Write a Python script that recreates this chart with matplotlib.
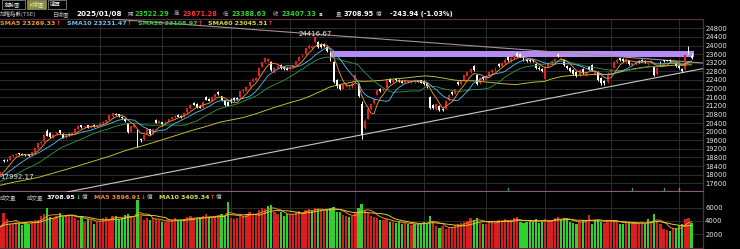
import numpy as np
import pandas as pd
import matplotlib
matplotlib.use("Agg")
import matplotlib.pyplot as plt

plt.rcParams['font.family'] = ['DejaVu Sans', 'Noto Sans CJK TC']

# closes / volumes before the first visible bar, only used to warm up the averages
warmup_closes = [16700, 16750, 16850, 16950, 17150, 17240, 17300, 17280, 17350, 17380, 17420, 17400, 17350, 17370, 17430, 17433,
                 17380, 17360, 17390, 17280, 17270, 17340, 17420, 17480, 17560, 17620, 17590, 17620, 17520, 17580, 17650, 17700, 17820, 17900, 17930,
                 17850, 17650, 17590, 17550, 17480, 17520, 17600, 17620, 17520, 17400, 17320, 17250, 17350, 17600, 17700, 17800, 17850, 17780, 17820, 17900, 17880, 17890,
                 17950, 18020]
warmup_volumes = [3000, 3100, 2900, 3200, 3300, 3100, 3000, 3400, 3200]

# daily bars, TAIEX (億 for volume)
opens = [18000, 18700, 18700, 18680, 18850, 18900, 18990, 18980, 18950, 18940, 18900,
         19040, 19230, 19450, 19540, 20050, 19950, 19720, 19880, 20060, 19900, 19740, 19900, 19860, 19950, 20120, 20300, 20220, 20300, 20180, 20310, 20250,
         20300, 20380, 20440, 20550, 20740, 20820, 20800, 20700, 20600, 20380, 20000, 20200, 20050, 19640, 19640, 19900, 20100, 19900, 20550, 20420,
         20440, 20340, 20460, 20580, 20680, 20760, 20720, 20680, 20900, 21080, 21320, 21300, 21200, 21120, 21620, 21500, 21440, 21620, 21860, 21640, 21450, 21360,
         21480, 21540, 21560, 21600, 21880, 21900, 22100, 22330, 22420, 22600, 23000, 23250, 23300, 23250, 22800, 22950, 23080, 23020, 22960,
         22900, 23000, 23100, 23300, 23500, 23600, 23900, 23880, 24150, 24150, 24050, 24060, 23950, 23650, 23250, 22400, 22150, 22000, 22150, 22100, 22150,
         22400, 22200, 21300, 20150, 20600, 21050, 21320, 21700, 22000, 21950, 22050, 22450, 22300, 22400, 22420, 22350, 22280, 22300, 22280, 22300, 22360, 22400,
         22350, 22250, 21600, 21250, 21050, 21200, 21050, 21050, 21450, 21850, 21750, 22300, 22200, 22350, 22600, 22750, 23050, 22650, 22250, 22550,
         22420, 22600, 22760, 22860, 23150, 23050, 23200, 23450, 23300, 23400, 23650, 23600, 23450, 23380, 23350, 23320, 23150, 22950, 22900,
         22450, 23000, 23200, 23300, 23550, 23350, 23350, 23050, 22950, 22850, 22750, 22650, 22900, 22650, 23000, 23100, 22700, 22750, 22500, 22350, 22300,
         22750, 22950, 23250, 23400, 23380, 23250, 23300, 23100, 23150, 23300, 23350, 23300, 23150, 23200, 23000, 22700, 23250, 23300, 23320, 23350, 23250, 23200,
         23050, 22900, 22900, 23900, 23522.29]
highs = [18160, 18720, 18740, 18880, 18940, 18990, 19010, 19000, 18980, 18980, 19060,
         19250, 19480, 19560, 19900, 20100, 19990, 19900, 19990, 20090, 19930, 19850, 19930, 19960, 20150, 20300, 20330, 20280, 20320, 20300, 20340, 20360,
         20420, 20480, 20560, 20780, 20880, 20860, 20830, 20740, 20620, 20420, 20280, 20330, 20100, 19720, 19880, 20150, 20130, 20160, 20600, 20520,
         20460, 20480, 20600, 20700, 20760, 20800, 20780, 20900, 21100, 21300, 21360, 21330, 21250, 21400, 21660, 21560, 21640, 21760, 21900, 21660, 21480, 21400,
         21560, 21600, 21600, 21900, 21960, 22100, 22350, 22480, 22540, 22990, 23250, 23480, 23420, 23300, 23000, 23080, 23120, 23060, 22990,
         23020, 23100, 23300, 23500, 23600, 23900, 24050, 24020, 24416.67, 24200, 24100, 24100, 23980, 23700, 23300, 22450, 22200, 22200, 22250, 22220, 22300,
         22660, 22250, 21400, 20600, 21080, 21350, 21560, 21980, 22050, 22050, 22400, 22500, 22450, 22450, 22450, 22380, 22420, 22400, 22380, 22380, 22400, 22420,
         22380, 22280, 21650, 21300, 21350, 21250, 21100, 21450, 21750, 21900, 22000, 22350, 22400, 22650, 22800, 22950, 23080, 22680, 22550, 22600,
         22650, 22800, 22900, 22980, 23200, 23250, 23400, 23500, 23450, 23560, 23700, 23650, 23500, 23420, 23400, 23380, 23200, 23050, 22950,
         23050, 23250, 23350, 23400, 23650, 23450, 23380, 23100, 23000, 22900, 22800, 22900, 22950, 22800, 23050, 23150, 22850, 22800, 22550, 22400, 22750,
         22900, 23300, 23400, 23420, 23400, 23400, 23330, 23200, 23250, 23330, 23380, 23320, 23250, 23320, 23050, 23000, 23300, 23330, 23350, 23380, 23380, 23250,
         23100, 22950, 23600, 23960, 23671.28]
lows = [17992.17, 18600, 18620, 18660, 18820, 18860, 18900, 18900, 18880, 18860, 18880,
        19020, 19200, 19380, 19520, 19780, 19720, 19700, 19850, 19900, 19700, 19700, 19820, 19840, 19940, 20100, 20180, 20190, 20150, 20160, 20220, 20230,
        20260, 20340, 20420, 20530, 20700, 20760, 20700, 20600, 20440, 19950, 19980, 20150, 19300, 19500, 19620, 19880, 19850, 19880, 20380, 20380,
        20300, 20320, 20440, 20560, 20650, 20660, 20620, 20660, 20880, 21060, 21220, 21120, 21080, 21100, 21460, 21400, 21420, 21600, 21700, 21420, 21200, 21180,
        21320, 21420, 21460, 21580, 21800, 21880, 22080, 22300, 22380, 22580, 22980, 23200, 23220, 22820, 22740, 22900, 22920, 22880, 22840,
        22860, 22950, 23080, 23280, 23450, 23580, 23850, 23860, 24120, 23900, 23900, 23940, 23700, 23300, 22250, 22050, 21950, 21980, 22080, 22000, 22050,
        22380, 21600, 19662, 20100, 20580, 21000, 21300, 21680, 21850, 21900, 22030, 22250, 22280, 22350, 22300, 22250, 22260, 22250, 22250, 22280, 22300, 22250,
        22150, 22050, 21040, 21050, 21000, 20950, 20950, 21030, 21420, 21700, 21730, 22150, 22150, 22330, 22580, 22720, 22800, 22150, 22200, 22400,
        22400, 22580, 22700, 22800, 23000, 23000, 23150, 23300, 23250, 23380, 23480, 23450, 23300, 23250, 23250, 23230, 22900, 22850, 22750,
        22400, 22980, 23150, 23250, 23450, 23300, 23050, 22900, 22750, 22650, 22550, 22600, 22700, 22600, 22850, 22800, 22650, 22350, 22180, 22150, 22280,
        22700, 22950, 23200, 23300, 23250, 23200, 23100, 23050, 23100, 23200, 23250, 23180, 23100, 23150, 22600, 22650, 23150, 23250, 23280, 23250, 23200, 23000,
        22900, 22750, 22880, 23620, 23388.63]
closes = [18120, 18640, 18660, 18860, 18900, 18960, 18940, 18920, 18900, 18890, 19040,
          19220, 19450, 19520, 19860, 19810, 19750, 19880, 19960, 19930, 19720, 19830, 19850, 19940, 20120, 20280, 20220, 20250, 20180, 20280, 20240, 20300,
          20390, 20460, 20540, 20760, 20850, 20790, 20720, 20620, 20480, 20000, 20250, 20300, 19520, 19600, 19850, 20120, 19880, 20140, 20420, 20490,
          20340, 20460, 20580, 20680, 20740, 20700, 20680, 20880, 21080, 21260, 21260, 21150, 21120, 21380, 21480, 21440, 21620, 21740, 21740, 21460, 21240, 21200,
          21360, 21460, 21500, 21880, 21920, 22060, 22320, 22440, 22500, 22960, 23220, 23400, 23380, 22870, 22960, 23040, 22960, 22900, 22880,
          22980, 23080, 23270, 23480, 23560, 23880, 24000, 23980, 24390, 23920, 23950, 23980, 23760, 23350, 22300, 22100, 22000, 22150, 22220, 22180, 22200,
          22640, 21640, 19830, 20500, 21040, 21300, 21520, 21950, 21900, 22000, 22380, 22300, 22420, 22400, 22330, 22280, 22400, 22350, 22360, 22350, 22320, 22270,
          22200, 22100, 21090, 21100, 21300, 21000, 21000, 21420, 21700, 21750, 21980, 22200, 22350, 22620, 22760, 22920, 22850, 22220, 22500, 22450,
          22600, 22760, 22860, 22950, 23050, 23200, 23350, 23350, 23400, 23500, 23500, 23480, 23350, 23300, 23280, 23260, 22950, 22900, 22800,
          23000, 23200, 23300, 23380, 23500, 23420, 23100, 22950, 22800, 22700, 22600, 22850, 22750, 22750, 22900, 22850, 22800, 22400, 22250, 22260, 22700,
          22850, 23250, 23350, 23330, 23300, 23380, 23150, 23180, 23220, 23250, 23300, 23220, 23200, 23280, 22650, 22950, 23200, 23280, 23300, 23290, 23350, 23035,
          22950, 22800, 23550, 23651, 23407.33]
volumes = [3200, 5200, 4300, 3600, 3500, 3900, 3700, 3400, 3800, 3600, 3900,
           4100, 4200, 4700, 5000, 5900, 4600, 4500, 4700, 5200, 4600, 4700, 4900, 4800, 4400, 4200, 4800, 3900, 4300, 4100, 3600, 3900,
           4000, 4400, 4600, 4200, 4800, 4700, 4300, 4400, 4900, 5100, 4600, 4500, 7200, 4800, 4200, 4500, 4100, 4400, 4300, 4100,
           3800, 3900, 4000, 4100, 4400, 4200, 4000, 4300, 4600, 4800, 4400, 4300, 4500, 4700, 5000, 4600, 4400, 4700, 4900, 5100, 4800, 6900,
           4500, 4300, 4400, 4900, 4800, 5000, 5300, 5000, 4900, 5600, 5900, 5800, 6200, 6400, 5400, 5000, 5300, 4800, 5000,
           4900, 5100, 5300, 5500, 5200, 5700, 5800, 5600, 6000, 5800, 5700, 5500, 5800, 6000, 6100, 5400, 5300, 4900, 4700, 4600, 4800,
           5200, 5900, 6500, 5600, 5200, 4700, 4600, 4500, 4200, 4100, 4300, 3900, 3800, 3700, 3900, 3600, 3700, 3500, 3400, 3600, 3500, 3700,
           3900, 3600, 4700, 3800, 3300, 3000, 3200, 2800, 2900, 3100, 3400, 3500, 3700, 3900, 4000, 4400, 4100, 4500, 3700, 3600,
           3600, 3800, 3900, 3700, 4100, 4200, 4300, 4000, 3900, 4400, 4600, 3900, 3700, 3800, 4100, 3900, 4300, 3700, 4000,
           4300, 4000, 4200, 4400, 4600, 4100, 4500, 4300, 3800, 3700, 3600, 3900, 4200, 4000, 4900, 3600, 4100, 4300, 3900, 3700, 4100,
           3800, 4100, 3900, 3600, 3500, 3700, 3800, 3600, 3500, 3700, 3900, 3600, 4300, 3800, 5000, 4000, 3500, 2800, 2600, 2500, 2900, 3000,
           3300, 3600, 4300, 4500, 3708.95]

month_starts = [32, 52, 74, 93, 114, 136, 156, 175, 196, 218]
price_ticks = list(range(17600, 24801, 400))
vol_ticks = [2000, 4000, 6000]
zone_low, zone_high, zone_from = 23460, 23730, 106
trend_down = [(60, 24972), (224, 23207)]
trend_up = [(30, 17437), (222, 22826)]
event_marks = [163, 203, 213, 218]

quote = ['2025/01/08', '23522.29', '23671.28', '23388.63', '23407.33', '3708.95', '-243.94 (-1.03%)']
sma_text = ['SMA5 23269.33', 'SMA10 23231.47', 'SMA20 23108.97', 'SMA60 23045.51']
vol_text = ['3708.95', 'MA5 3896.91', 'MA10 3405.34']

assert len(opens) == len(highs) == len(lows) == len(closes) == len(volumes)

RED = '#e3201b'
GREEN = '#2fd02f'
GRAY = '#bdbdbd'
W, H = 740, 249

fig = plt.figure(figsize=(7.4, 2.49), dpi=100, facecolor='black')
ax = fig.add_axes([0, 1 - 192 / H, 703 / W, (192 - 19) / H])
axv = fig.add_axes([0, 1 - 247.6 / H, 703 / W, (247.6 - 192) / H], sharex=ax)

n = len(closes)
idx = np.arange(n)
o, h, l, c = (np.array(a, dtype=float) for a in (opens, highs, lows, closes))
col = np.where(c > o, RED, '#ffffff')

# highlighted band sits behind the bars
ax.fill_between([zone_from, n - 0.2], zone_low, zone_high, color='#b48cf6', lw=0, zorder=2)

ax.vlines(idx, l, h, colors=col, lw=0.7, zorder=4)
ax.bar(idx, np.maximum(np.abs(c - o), 25), bottom=np.minimum(o, c), width=0.62,
       color=col, lw=0, zorder=5)

allc = pd.Series(warmup_closes + closes)
k = len(warmup_closes)
for w, mc in [(60, '#c9c934'), (20, '#2e9445'), (10, '#5ab4e6'), (5, '#ee9030')]:
    ax.plot(idx, allc.rolling(w).mean().values[k:], color=mc, lw=0.65, zorder=6)

ax.axline(trend_down[0], trend_down[1], color='#a89090', lw=0.8, zorder=3)
ax.axline(trend_up[0], trend_up[1], color='#c8c8c8', lw=0.8, zorder=3)

i_hi = int(np.argmax(h))
i_lo = int(np.argmin(l))
ax.text(i_hi, h[i_hi] + 140, f'{h[i_hi]:.2f}', color='#e6e6e6', fontsize=5, ha='center', va='center', zorder=7)
ax.text(i_lo, l[i_lo] - 100, f'{l[i_lo]:.2f}', color='#e6e6e6', fontsize=5, ha='left', va='center', zorder=7)

for m, mc in zip(event_marks, ['#3a9a3a', '#3a9a3a', '#3a9a3a', '#a08040']):
    ax.plot([m, m], [17290, 17380], color=mc, lw=1.0, zorder=7)

ax.set_ylim(17196, 25232)
ax.set_xlim(-0.16, 225.66)
ax.set_yticks(price_ticks)

# volume panel
v = np.array(volumes, dtype=float)
prev = np.r_[warmup_closes[-1], c[:-1]]
vcol = np.where(c >= prev, '#d81e1e', GREEN)
axv.bar(idx, v, width=0.72, color=vcol, lw=0, zorder=3)
allv = pd.Series(warmup_volumes + volumes)
kv = len(warmup_volumes)
axv.plot(idx, allv.rolling(5).mean().values[kv:], color='#f08a2a', lw=0.7, zorder=4)
axv.plot(idx, allv.rolling(10).mean().values[kv:], color='#d8d030', lw=0.7, zorder=4)
axv.set_ylim(0, 8360)
axv.set_yticks(vol_ticks)

for a in (ax, axv):
    a.set_facecolor('black')
    a.set_xticks(month_starts)
    a.grid(True, color='#343434', lw=0.6, zorder=0)
    a.set_axisbelow(True)
    a.yaxis.tick_right()
    a.tick_params(axis='y', length=0, pad=1.5, labelsize=4.9, labelcolor='#e8e8e8')
    a.tick_params(axis='x', length=0, labelbottom=False)
    for s in a.spines.values():
        s.set_color('#5e2a3e')
        s.set_linewidth(0.9)
    a.spines['left'].set_visible(False)
ax.spines['bottom'].set_color('#8a5a7c')
ax.spines['bottom'].set_linewidth(1.6)
axv.spines['top'].set_visible(False)

renderer = fig.canvas.get_renderer()


def row(px, py, parts):
    # lay text pieces out one after another, starting at pixel px
    x = px
    for s, color, size, weight, gap in parts:
        x += gap
        t = fig.text(x / W, 1 - py / H, s, color=color, fontsize=size, weight=weight,
                     ha='left', va='center')
        x = t.get_window_extent(renderer).x1


# tabs
for x0, x1, label, bg in [(2, 25, '走勢圖', 'black'), (27, 46, 'K線圖', '#8c8c2a'), (48, 66, '速覽', 'black')]:
    fig.patches.append(plt.Rectangle((x0 / W, 1 - 9 / H), (x1 - x0) / W, 9 / H, transform=fig.transFigure,
                                     facecolor=bg, edgecolor='#808080', lw=0.6))
    row(x0 + 2, 4.5, [(label, '#e0e0e0', 4.0, 'normal', 0)])

# quote line
row(0, 14, [('加權指數(TSE)', GRAY, 4.0, 'normal', 0)])
row(52, 14, [('日線圖', GRAY, 4.0, 'normal', 0)])
row(76, 14, [(quote[0], 'white', 5.2, 'bold', 0)])
row(127, 14, [('開', GRAY, 4.0, 'normal', 0), (quote[1], GREEN, 4.8, 'bold', 2)])
row(174, 14, [('高', GRAY, 4.0, 'normal', 0), (quote[2], '#ff3030', 4.8, 'bold', 3)])
row(223, 14, [('低', GRAY, 4.0, 'normal', 0), (quote[3], GREEN, 4.8, 'bold', 3)])
row(273, 14, [('收', GRAY, 4.0, 'normal', 0), (quote[4], GREEN, 4.8, 'bold', 3)])
row(319, 14, [('s', 'white', 4.4, 'bold', 0)])
row(336, 14, [('量', GRAY, 4.0, 'normal', 0), (quote[5], 'white', 4.8, 'bold', 2),
              ('億', GRAY, 4.0, 'normal', 2)])
row(390, 14, [(quote[6], 'white', 4.8, 'bold', 0)])

# moving average legend
for px, s, mc in zip([0, 67, 138, 208], sma_text, ['#f09a30', '#66c4f0', '#3ccc3c', '#d8d838']):
    row(px, 23.3, [(s, mc, 4.5, 'bold', 0), ('↑', '#ff3030', 4.5, 'bold', 0.5)])

# volume legend
row(0, 197.5, [('成交量', GRAY, 4.0, 'normal', 0)])
row(27, 197.5, [('成交量', GRAY, 4.0, 'normal', 0), (vol_text[0], 'white', 4.6, 'bold', 3),
                ('↓', GREEN, 4.5, 'bold', 0.5), ('億', GRAY, 4.0, 'normal', 0.5)])
row(94, 197.5, [(vol_text[1], '#f08a2a', 4.5, 'bold', 0), ('↓', '#ff3030', 4.5, 'bold', 0.5),
                ('億', GRAY, 4.0, 'normal', 0.5)])
row(159, 197.5, [(vol_text[2], '#e0e040', 4.5, 'bold', 0), ('↑', '#ff3030', 4.5, 'bold', 0.5),
                 ('億', GRAY, 4.0, 'normal', 0.5)])

fig.savefig('out.png', dpi=100, facecolor='black')
